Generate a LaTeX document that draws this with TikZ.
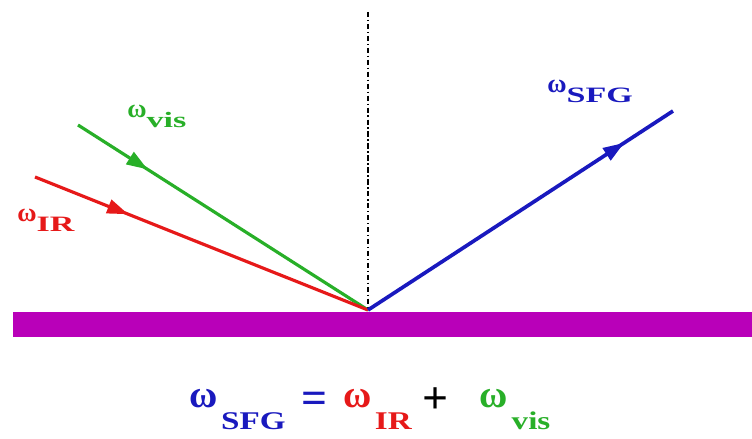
\documentclass[tikz,border=0pt]{standalone}
\usepackage{fontspec}
\setmainfont{Liberation Serif}
\usepackage{tikz}
\usetikzlibrary{arrows.meta,decorations.markings}
\definecolor{verde}{RGB}{40,175,40}
\definecolor{rojo}{RGB}{230,25,25}
\definecolor{azul}{RGB}{25,25,190}
\definecolor{magenta}{RGB}{185,0,185}
% omega con subindice, etiquetas y formula
\newcommand{\wlab}[1]{{\fontsize{15}{17}\selectfont ω}\raisebox{-5.5pt}{\scalebox{1.55}[1]{\fontsize{12.5}{14}\selectfont #1}}}
\newcommand{\weq}[1]{{\fontsize{22}{24}\selectfont ω}\kern2pt\raisebox{-12pt}{\scalebox{1.3}[1]{\fontsize{14.5}{17}\selectfont #1}}}
\newcommand{\signo}[1]{\raisebox{-3pt}{\fontsize{26}{28}\selectfont #1}}
\tikzset{
  rayo/.style={line width=1.8pt,
    decoration={markings,
      mark=at position #1 with {\arrow{Triangle[length=12pt,width=8pt]}}},
    postaction={decorate}},
  normal/.style={line width=0.8pt, dash pattern=on 3pt off 1.5pt on 0.8pt off 1.5pt},
  etiq/.style={font=\bfseries, inner sep=0pt, anchor=base west},
  formula/.style={font=\bfseries\fontsize{22}{24}\selectfont, inner sep=0pt, anchor=base west}
}
\begin{document}
\begin{tikzpicture}[x=0.02cm,y=-0.02cm]
\useasboundingbox (0,0) rectangle (752,439);

% superficie
\fill[magenta] (13,312) rectangle (752,337);

% puntos de los haces
\coordinate (o)    at (368,310);
\coordinate (top)  at (368,12);
\coordinate (vis0) at (78,125);
\coordinate (ir0)  at (35,177);
\coordinate (sfg1) at (673,111);

\draw[normal] (top) -- (o);
\draw[rayo=0.24, verde] (vis0) -- (o);
\draw[rayo=0.28, rojo]  (ir0) -- (o);
\draw[rayo=0.84, azul, line width=2.1pt] (o) -- (sfg1);

% etiquetas
\node[etiq, text=verde] (lvis) at (127,118) {\wlab{vis}};
\node[etiq, text=rojo]  (lir)  at (17,222)  {\wlab{IR}};
\node[etiq, text=azul]  (lsfg) at (547,93)  {\wlab{SFG}};

\node[formula] (eq) at (189,408)
  {\textcolor{azul}{\weq{SFG}\hspace{9pt}\signo{=}}\hspace{9pt}%
   \textcolor{rojo}{\weq{IR}}\hspace{6pt}\signo{+}\hspace{18pt}%
   \textcolor{verde}{\weq{vis}}};

\end{tikzpicture}
\end{document}
